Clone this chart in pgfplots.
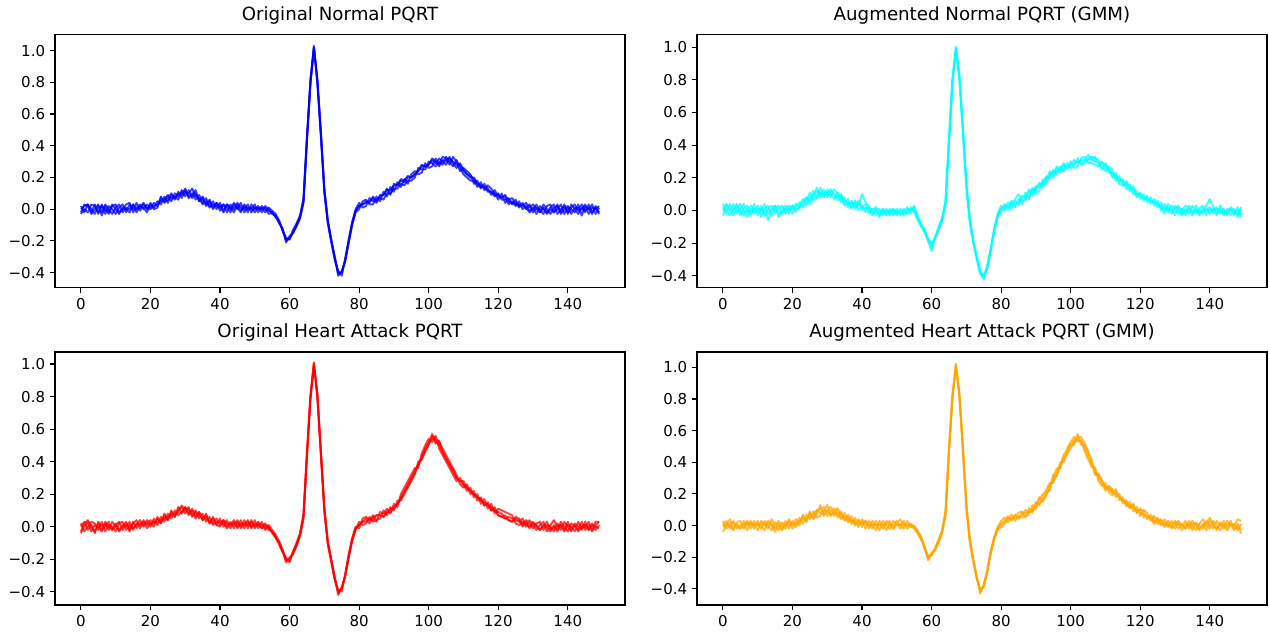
\documentclass[border=0pt]{standalone}
\usepackage{fontspec}
\setmainfont{DejaVu Sans}
\usepackage{pgfplots}
\usepackage{pgfplotstable}
\pgfplotsset{compat=1.18}
\definecolor{mblue}{RGB}{0,0,255}
\definecolor{mcyan}{RGB}{0,255,255}
\definecolor{mred}{RGB}{255,0,0}
\definecolor{morange}{RGB}{255,165,0}

\pgfplotstableread{
x a b c d
0 -0.02 0.02 -0.03 0.00
1 0.03 -0.02 0.00 0.02
2 0.02 0.03 -0.02 0.03
3 -0.02 0.00 0.03 -0.03
4 0.03 -0.03 0.02 0.00
5 -0.03 0.02 -0.02 0.03
6 0.02 -0.02 0.03 -0.04
7 0.00 0.03 -0.03 0.02
8 -0.03 0.00 0.02 -0.02
9 0.02 -0.03 0.00 0.03
10 0.03 0.01 -0.03 0.00
11 -0.02 0.03 0.01 -0.03
12 0.00 -0.02 0.03 0.01
13 0.03 0.01 -0.02 0.00
14 0.04 0.00 0.03 -0.02
15 -0.02 0.03 0.00 0.03
16 0.01 -0.02 0.04 0.00
17 0.03 0.02 -0.01 0.01
18 0.00 0.01 0.03 0.04
19 0.03 -0.02 0.01 0.00
20 0.01 0.04 0.00 0.03
21 0.04 0.01 0.02 0.00
22 0.02 0.05 0.03 0.01
23 0.07 0.03 0.05 0.08
24 0.05 0.08 0.06 0.04
25 0.08 0.04 0.09 0.06
26 0.05 0.09 0.07 0.10
27 0.10 0.06 0.08 0.07
28 0.08 0.11 0.06 0.10
29 0.11 0.07 0.12 0.09
30 0.08 0.12 0.10 0.13
31 0.12 0.08 0.10 0.07
32 0.07 0.10 0.13 0.09
33 0.10 0.06 0.08 0.12
34 0.05 0.09 0.07 0.05
35 0.08 0.04 0.03 0.07
36 0.03 0.07 0.05 0.02
37 0.06 0.02 0.01 0.05
38 0.01 0.05 0.03 0.00
39 0.04 0.00 0.02 0.04
40 -0.01 0.04 0.01 0.02
41 0.03 -0.01 0.03 -0.02
42 0.01 0.03 -0.02 0.03
43 -0.02 0.01 0.03 0.00
44 0.03 -0.02 0.00 0.04
45 0.00 0.03 0.04 0.01
46 0.04 -0.01 0.01 -0.02
47 -0.02 0.02 0.00 0.03
48 0.01 -0.02 0.03 0.00
49 0.00 0.03 -0.02 0.01
50 0.03 0.00 0.01 -0.02
51 -0.02 0.02 0.00 0.01
52 0.02 -0.02 0.01 0.00
53 0.00 0.02 -0.02 0.01
54 -0.01 0.00 0.01 -0.03
55 -0.02 -0.03 -0.01 -0.02
56 -0.05 -0.04 -0.03 -0.05
57 -0.08 -0.09 -0.07 -0.08
58 -0.13 -0.12 -0.14 -0.13
59 -0.19 -0.21 -0.18 -0.20
60 -0.19 -0.17 -0.19 -0.18
61 -0.14 -0.15 -0.13 -0.15
62 -0.10 -0.11 -0.09 -0.10
63 -0.05 -0.06 -0.04 -0.05
64 0.05 0.04 0.07 0.05
65 0.45 0.43 0.46 0.44
66 0.80 0.79 0.82 0.80
67 1.02 1.01 1.03 1.02
68 0.80 0.82 0.79 0.81
69 0.47 0.49 0.46 0.48
70 0.12 0.13 0.10 0.12
71 -0.08 -0.07 -0.09 -0.08
72 -0.20 -0.19 -0.21 -0.20
73 -0.31 -0.30 -0.32 -0.31
74 -0.40 -0.42 -0.39 -0.41
75 -0.40 -0.39 -0.42 -0.40
76 -0.32 -0.33 -0.31 -0.32
77 -0.20 -0.21 -0.19 -0.21
78 -0.09 -0.10 -0.08 -0.09
79 -0.01 -0.02 0.00 -0.01
80 0.02 0.00 0.04 0.02
81 0.03 0.05 0.01 0.03
82 0.04 0.06 0.02 0.05
83 0.05 0.03 0.07 0.04
84 0.07 0.03 0.05 0.08
85 0.04 0.08 0.06 0.05
86 0.09 0.05 0.07 0.08
87 0.09 0.11 0.06 0.09
88 0.12 0.08 0.10 0.13
89 0.12 0.14 0.10 0.09
90 0.15 0.11 0.13 0.16
91 0.15 0.17 0.13 0.15
92 0.18 0.14 0.16 0.19
93 0.17 0.19 0.15 0.18
94 0.20 0.16 0.18 0.21
95 0.20 0.22 0.18 0.20
96 0.22 0.24 0.20 0.22
97 0.24 0.22 0.26 0.24
98 0.27 0.23 0.25 0.28
99 0.27 0.29 0.25 0.27
100 0.28 0.26 0.30 0.28
101 0.31 0.27 0.29 0.32
102 0.29 0.32 0.27 0.30
103 0.32 0.28 0.30 0.27
104 0.30 0.33 0.28 0.31
105 0.28 0.32 0.33 0.30
106 0.32 0.28 0.30 0.33
107 0.30 0.33 0.27 0.29
108 0.28 0.30 0.31 0.26
109 0.28 0.24 0.26 0.29
110 0.24 0.26 0.22 0.25
111 0.22 0.24 0.20 0.22
112 0.20 0.22 0.18 0.21
113 0.20 0.16 0.18 0.19
114 0.16 0.18 0.14 0.16
115 0.15 0.13 0.17 0.14
116 0.14 0.16 0.12 0.14
117 0.11 0.13 0.15 0.12
118 0.11 0.09 0.13 0.11
119 0.08 0.12 0.10 0.09
120 0.10 0.08 0.06 0.09
121 0.06 0.08 0.10 0.07
122 0.06 0.08 0.04 0.09
123 0.07 0.03 0.06 0.05
124 0.03 0.05 0.07 0.04
125 0.06 0.02 0.04 0.03
126 0.01 0.05 0.03 0.02
127 0.04 0.00 0.02 0.03
128 0.00 0.02 0.04 0.01
129 0.03 -0.01 0.01 -0.02
130 -0.02 0.01 0.03 0.00
131 0.01 -0.03 0.00 0.03
132 0.00 0.02 -0.02 -0.02
133 -0.03 0.00 0.03 0.01
134 0.02 -0.02 0.00 -0.03
135 0.03 0.01 -0.03 0.00
136 -0.02 0.03 0.01 -0.02
137 0.00 -0.03 0.02 0.03
138 0.03 0.00 -0.02 -0.03
139 -0.03 0.02 0.03 0.00
140 0.01 -0.02 -0.03 0.02
141 0.00 0.03 0.01 -0.03
142 -0.02 0.00 0.03 0.01
143 0.03 -0.03 -0.01 0.00
144 -0.04 0.01 0.00 0.03
145 0.02 -0.02 0.03 -0.01
146 0.00 0.03 -0.03 0.01
147 0.03 -0.02 0.01 -0.03
148 -0.03 0.01 0.00 0.02
149 0.01 -0.03 0.02 -0.02
}\tabTL

\pgfplotstableread{
x a b c d
0 0.02 -0.03 0.04 0.00
1 -0.02 0.03 0.00 0.04
2 0.04 0.00 -0.03 0.01
3 0.00 0.04 0.01 -0.03
4 0.03 -0.02 0.04 0.01
5 -0.03 0.01 0.00 0.04
6 0.01 0.04 -0.03 0.00
7 0.03 -0.01 0.01 -0.04
8 -0.02 0.03 -0.03 0.01
9 0.04 0.00 0.01 -0.02
10 -0.03 0.03 -0.01 0.01
11 0.01 -0.04 0.03 0.00
12 0.00 0.01 -0.03 0.04
13 -0.06 0.03 0.01 -0.02
14 0.01 -0.03 0.03 0.00
15 0.03 0.01 -0.02 0.03
16 -0.02 0.03 0.01 -0.04
17 0.01 -0.02 0.03 0.00
18 0.03 0.01 -0.02 0.01
19 0.00 0.03 0.01 -0.02
20 0.01 -0.02 0.03 0.03
21 0.04 0.02 -0.01 0.01
22 0.02 0.05 0.03 0.01
23 0.05 0.02 0.07 0.04
24 0.08 0.05 0.03 0.08
25 0.06 0.11 0.07 0.04
26 0.10 0.06 0.12 0.08
27 0.12 0.09 0.07 0.14
28 0.10 0.14 0.11 0.08
29 0.13 0.09 0.08 0.11
30 0.08 0.11 0.13 0.10
31 0.12 0.08 0.10 0.13
32 0.10 0.13 0.07 0.09
33 0.08 0.10 0.11 0.06
34 0.10 0.05 0.07 0.09
35 0.04 0.08 0.06 0.03
36 0.07 0.02 0.05 0.04
37 0.02 0.06 0.01 0.05
38 0.05 0.01 0.06 0.02
39 0.00 0.05 0.03 0.06
40 0.03 0.02 0.10 0.00
41 -0.01 0.04 0.05 0.02
42 0.03 -0.02 0.02 0.01
43 -0.02 0.01 0.00 -0.03
44 0.01 -0.03 0.02 0.00
45 -0.03 0.00 -0.04 0.01
46 0.01 -0.03 0.01 -0.02
47 -0.02 0.01 -0.03 0.00
48 0.01 -0.02 0.00 -0.03
49 -0.03 0.01 -0.02 0.01
50 0.00 -0.03 0.01 -0.02
51 -0.02 0.01 -0.03 0.00
52 0.01 -0.02 0.00 -0.03
53 -0.02 0.02 -0.02 0.01
54 0.02 -0.02 0.01 0.00
55 0.00 0.03 -0.01 0.02
56 -0.05 -0.03 -0.06 -0.04
57 -0.09 -0.08 -0.10 -0.09
58 -0.12 -0.14 -0.11 -0.13
59 -0.18 -0.17 -0.19 -0.18
60 -0.22 -0.20 -0.25 -0.21
61 -0.17 -0.18 -0.16 -0.17
62 -0.11 -0.10 -0.12 -0.11
63 -0.06 -0.05 -0.07 -0.05
64 0.04 0.06 0.03 0.05
65 0.42 0.44 0.41 0.43
66 0.78 0.80 0.79 0.81
67 1.00 0.99 1.00 0.98
68 0.82 0.80 0.83 0.81
69 0.50 0.48 0.51 0.49
70 0.15 0.17 0.14 0.16
71 -0.07 -0.05 -0.08 -0.06
72 -0.19 -0.18 -0.20 -0.19
73 -0.29 -0.28 -0.30 -0.29
74 -0.38 -0.37 -0.39 -0.38
75 -0.41 -0.40 -0.42 -0.40
76 -0.35 -0.36 -0.34 -0.35
77 -0.24 -0.25 -0.23 -0.24
78 -0.12 -0.13 -0.11 -0.12
79 -0.03 -0.04 -0.02 -0.03
80 0.01 -0.01 0.03 0.01
81 0.02 0.04 0.00 0.03
82 0.03 0.00 0.05 0.02
83 0.01 0.05 0.03 0.06
84 0.06 0.02 0.07 0.03
85 0.03 0.07 0.10 0.05
86 0.08 0.04 0.06 0.09
87 0.08 0.11 0.06 0.09
88 0.12 0.08 0.13 0.07
89 0.09 0.13 0.11 0.14
90 0.14 0.10 0.15 0.12
91 0.16 0.12 0.14 0.17
92 0.16 0.19 0.17 0.14
93 0.20 0.16 0.21 0.18
94 0.21 0.23 0.19 0.24
95 0.24 0.20 0.25 0.22
96 0.24 0.26 0.22 0.27
97 0.25 0.23 0.27 0.25
98 0.28 0.26 0.24 0.29
99 0.26 0.29 0.27 0.25
100 0.28 0.26 0.30 0.28
101 0.31 0.28 0.26 0.29
102 0.29 0.32 0.27 0.30
103 0.31 0.28 0.32 0.29
104 0.31 0.29 0.33 0.30
105 0.34 0.31 0.29 0.32
106 0.31 0.33 0.29 0.31
107 0.30 0.32 0.28 0.33
108 0.29 0.31 0.27 0.29
109 0.29 0.27 0.30 0.25
110 0.28 0.24 0.26 0.29
111 0.25 0.27 0.23 0.25
112 0.22 0.25 0.23 0.20
113 0.22 0.18 0.20 0.23
114 0.18 0.21 0.19 0.16
115 0.18 0.15 0.19 0.16
116 0.15 0.17 0.13 0.18
117 0.16 0.12 0.14 0.14
118 0.12 0.15 0.13 0.10
119 0.10 0.08 0.12 0.10
120 0.09 0.11 0.07 0.10
121 0.08 0.06 0.10 0.07
122 0.07 0.09 0.05 0.07
123 0.06 0.04 0.08 0.06
124 0.05 0.07 0.03 0.05
125 0.05 0.02 0.06 0.03
126 0.01 0.05 0.00 0.03
127 0.04 0.00 0.02 -0.02
128 0.01 0.04 -0.01 0.02
129 -0.02 0.01 0.03 0.00
130 0.03 -0.03 0.01 0.01
131 0.00 0.02 -0.02 0.03
132 -0.03 0.00 0.01 -0.02
133 0.01 0.03 -0.03 0.00
134 -0.02 0.01 0.03 0.01
135 0.03 -0.02 0.00 -0.03
136 0.00 0.03 -0.02 0.01
137 -0.03 0.00 0.01 -0.02
138 0.01 -0.02 0.03 0.00
139 0.00 0.01 -0.03 0.03
140 0.02 -0.02 0.01 0.07
141 -0.02 0.01 0.00 0.02
142 0.01 -0.03 0.02 -0.02
143 0.00 0.03 -0.02 0.01
144 -0.03 0.00 0.01 -0.02
145 0.01 -0.02 -0.03 0.00
146 0.00 0.02 0.01 -0.03
147 -0.02 0.00 -0.03 0.01
148 0.02 -0.03 0.00 -0.04
149 -0.03 0.02 -0.04 0.01
}\tabTR

\pgfplotstableread{
x a b c d
0 -0.03 0.02 0.00 -0.04
1 0.02 -0.03 0.03 0.00
2 0.04 0.00 -0.02 0.03
3 0.00 0.03 0.01 -0.03
4 -0.03 0.02 -0.04 0.01
5 0.02 -0.02 0.03 0.00
6 -0.02 0.03 0.00 -0.03
7 0.00 -0.03 0.02 0.03
8 0.03 0.01 -0.02 0.00
9 -0.02 0.00 0.03 -0.02
10 0.02 -0.03 0.00 0.01
11 -0.03 0.02 -0.02 0.03
12 0.00 0.03 0.01 -0.02
13 0.03 -0.02 0.00 0.02
14 -0.02 0.01 0.03 -0.03
15 0.02 -0.01 -0.02 0.03
16 0.04 0.01 0.02 -0.01
17 -0.01 0.04 0.01 0.02
18 0.03 0.00 0.04 0.01
19 0.01 0.03 -0.01 0.04
20 0.04 0.00 0.02 0.02
21 0.02 0.05 0.03 0.00
22 0.05 0.01 0.03 0.06
23 0.02 0.06 0.04 0.02
24 0.07 0.03 0.05 0.08
25 0.04 0.08 0.06 0.04
26 0.09 0.05 0.07 0.10
27 0.06 0.10 0.08 0.06
28 0.11 0.07 0.09 0.12
29 0.12 0.09 0.13 0.08
30 0.08 0.12 0.10 0.12
31 0.11 0.07 0.12 0.08
32 0.07 0.11 0.06 0.10
33 0.10 0.06 0.09 0.05
34 0.05 0.09 0.07 0.09
35 0.08 0.04 0.06 0.04
36 0.03 0.07 0.05 0.08
37 0.06 0.02 0.04 0.02
38 0.02 0.06 0.01 0.05
39 0.05 0.01 0.03 0.01
40 0.01 0.05 0.03 0.00
41 0.04 0.00 0.02 0.04
42 0.00 0.04 -0.01 0.02
43 0.03 -0.01 0.02 0.01
44 -0.01 0.03 0.01 0.04
45 0.03 0.00 0.04 -0.01
46 0.00 0.04 -0.01 0.02
47 0.04 -0.01 0.02 0.01
48 -0.01 0.03 0.01 0.04
49 0.03 0.00 0.04 -0.01
50 0.00 0.04 -0.01 0.02
51 0.03 -0.01 0.02 0.01
52 -0.01 0.03 0.01 -0.01
53 0.02 -0.01 -0.02 0.01
54 -0.01 0.01 0.00 -0.02
55 -0.03 -0.02 -0.04 -0.03
56 -0.06 -0.05 -0.07 -0.06
57 -0.10 -0.09 -0.11 -0.10
58 -0.15 -0.14 -0.16 -0.15
59 -0.20 -0.21 -0.19 -0.22
60 -0.21 -0.19 -0.22 -0.20
61 -0.16 -0.17 -0.15 -0.16
62 -0.11 -0.12 -0.10 -0.11
63 -0.05 -0.06 -0.04 -0.05
64 0.06 0.05 0.08 0.06
65 0.45 0.43 0.46 0.44
66 0.80 0.78 0.81 0.79
67 1.00 0.99 1.01 1.00
68 0.80 0.82 0.79 0.81
69 0.45 0.47 0.44 0.46
70 0.10 0.12 0.09 0.11
71 -0.10 -0.09 -0.11 -0.10
72 -0.21 -0.20 -0.22 -0.21
73 -0.32 -0.31 -0.33 -0.32
74 -0.40 -0.42 -0.39 -0.41
75 -0.38 -0.37 -0.40 -0.38
76 -0.30 -0.31 -0.29 -0.30
77 -0.18 -0.19 -0.17 -0.19
78 -0.08 -0.09 -0.07 -0.08
79 -0.01 -0.02 0.00 -0.01
80 0.01 0.03 -0.01 0.01
81 0.03 0.01 0.05 0.03
82 0.05 0.02 0.06 0.03
83 0.02 0.06 0.04 0.05
84 0.06 0.03 0.07 0.04
85 0.07 0.04 0.03 0.07
86 0.07 0.05 0.09 0.07
87 0.06 0.10 0.08 0.06
88 0.09 0.07 0.11 0.09
89 0.09 0.12 0.08 0.11
90 0.12 0.10 0.14 0.11
91 0.14 0.16 0.12 0.14
92 0.18 0.16 0.20 0.17
93 0.22 0.20 0.24 0.21
94 0.26 0.24 0.28 0.25
95 0.30 0.28 0.32 0.29
96 0.34 0.32 0.36 0.33
97 0.38 0.40 0.36 0.38
98 0.43 0.41 0.45 0.42
99 0.48 0.46 0.50 0.47
100 0.52 0.50 0.54 0.51
101 0.54 0.56 0.52 0.57
102 0.53 0.54 0.56 0.51
103 0.50 0.52 0.48 0.53
104 0.46 0.48 0.44 0.46
105 0.42 0.44 0.40 0.42
106 0.38 0.40 0.36 0.38
107 0.34 0.36 0.32 0.35
108 0.30 0.32 0.28 0.30
109 0.28 0.26 0.30 0.28
110 0.26 0.24 0.26 0.28
111 0.24 0.26 0.22 0.24
112 0.22 0.20 0.24 0.22
113 0.20 0.22 0.18 0.20
114 0.18 0.16 0.20 0.18
115 0.16 0.18 0.14 0.17
116 0.15 0.13 0.17 0.13
117 0.13 0.15 0.11 0.14
118 0.12 0.10 0.14 0.10
119 0.10 0.12 0.08 0.10
120 0.09 0.07 0.11 0.07
121 0.08 0.06 0.10 0.06
122 0.05 0.07 0.09 0.05
123 0.06 0.04 0.08 0.04
124 0.05 0.03 0.07 0.03
125 0.04 0.06 0.02 0.05
126 0.03 0.05 0.01 0.04
127 0.05 0.01 0.03 0.00
128 0.01 0.04 0.00 0.03
129 0.00 0.02 0.04 -0.01
130 0.03 -0.01 0.01 0.02
131 0.00 0.02 -0.02 0.01
132 -0.02 0.03 0.01 -0.02
133 0.01 -0.02 0.03 0.00
134 0.00 0.01 -0.03 0.03
135 -0.03 0.00 0.01 -0.02
136 0.01 -0.03 0.04 0.00
137 -0.02 0.02 0.00 -0.03
138 0.03 -0.02 0.01 0.01
139 0.00 0.03 -0.03 -0.02
140 -0.03 0.00 0.01 0.03
141 0.02 -0.03 0.00 -0.02
142 0.00 0.02 -0.03 0.01
143 -0.02 0.00 0.03 -0.03
144 0.03 -0.02 -0.01 0.00
145 -0.02 0.03 0.00 0.01
146 0.01 -0.02 0.03 -0.02
147 -0.03 0.01 -0.02 0.02
148 0.01 0.00 0.03 -0.02
149 0.03 -0.01 0.03 0.01
}\tabBL

\pgfplotstableread{
x a b c d
0 0.00 -0.04 0.03 -0.01
1 0.03 0.00 -0.02 0.01
2 -0.02 0.04 0.01 0.00
3 0.02 -0.02 0.03 -0.03
4 0.00 0.02 -0.02 0.01
5 -0.02 0.03 0.00 -0.02
6 0.03 -0.02 0.01 0.00
7 0.00 0.02 -0.03 0.03
8 0.02 -0.02 0.03 0.00
9 -0.02 0.03 0.00 0.01
10 0.03 0.00 0.01 -0.03
11 0.00 0.02 -0.02 0.03
12 -0.03 0.01 0.03 0.00
13 0.02 -0.02 0.00 0.03
14 0.00 0.04 -0.03 0.01
15 -0.04 0.00 0.02 -0.02
16 0.01 -0.03 0.00 0.03
17 -0.02 0.02 -0.03 0.00
18 0.03 0.00 0.01 -0.02
19 0.00 0.03 -0.02 0.04
20 0.01 -0.02 0.03 0.00
21 0.04 0.01 -0.01 0.02
22 0.02 0.05 0.03 0.00
23 0.06 0.01 0.04 0.07
24 0.03 0.07 0.05 0.02
25 0.08 0.04 0.06 0.09
26 0.05 0.09 0.07 0.04
27 0.09 0.05 0.10 0.07
28 0.11 0.06 0.08 0.13
29 0.07 0.12 0.09 0.06
30 0.09 0.06 0.13 0.10
31 0.12 0.09 0.07 0.06
32 0.06 0.11 0.08 0.09
33 0.10 0.05 0.07 0.11
34 0.05 0.09 0.04 0.07
35 0.08 0.04 0.06 0.03
36 0.03 0.07 0.02 0.05
37 0.06 0.01 0.04 0.02
38 0.01 0.05 0.00 0.03
39 0.04 0.00 0.03 -0.01
40 -0.01 0.03 0.01 0.04
41 0.03 -0.02 0.03 0.01
42 0.01 0.03 -0.02 0.00
43 -0.02 0.00 0.03 0.01
44 0.03 0.01 0.00 -0.03
45 0.00 -0.03 0.01 0.03
46 0.01 0.03 -0.02 0.00
47 -0.03 0.00 0.03 0.01
48 0.01 -0.02 0.00 0.03
49 0.00 0.03 -0.02 -0.02
50 0.03 0.00 0.01 0.01
51 -0.02 0.01 0.04 0.00
52 0.01 -0.02 0.00 0.03
53 0.00 0.03 0.01 -0.02
54 0.01 0.00 -0.01 0.01
55 -0.01 -0.02 0.00 -0.01
56 -0.04 -0.05 -0.03 -0.04
57 -0.08 -0.09 -0.07 -0.08
58 -0.14 -0.13 -0.15 -0.14
59 -0.20 -0.21 -0.19 -0.22
60 -0.18 -0.17 -0.19 -0.18
61 -0.15 -0.16 -0.14 -0.15
62 -0.10 -0.11 -0.09 -0.10
63 -0.04 -0.05 -0.03 -0.04
64 0.08 0.06 0.09 0.07
65 0.48 0.46 0.49 0.47
66 0.82 0.80 0.83 0.81
67 1.02 1.01 1.00 1.02
68 0.83 0.81 0.84 0.82
69 0.48 0.50 0.47 0.49
70 0.12 0.14 0.11 0.13
71 -0.10 -0.08 -0.11 -0.09
72 -0.22 -0.21 -0.23 -0.22
73 -0.33 -0.32 -0.34 -0.33
74 -0.41 -0.43 -0.40 -0.42
75 -0.38 -0.37 -0.39 -0.38
76 -0.29 -0.30 -0.28 -0.29
77 -0.17 -0.18 -0.16 -0.17
78 -0.08 -0.09 -0.07 -0.08
79 -0.02 -0.03 -0.01 -0.02
80 0.01 -0.01 0.03 0.01
81 0.03 0.01 0.05 0.02
82 0.06 0.04 0.02 0.05
83 0.03 0.07 0.05 0.04
84 0.07 0.03 0.05 0.06
85 0.04 0.06 0.08 0.05
86 0.08 0.05 0.09 0.06
87 0.08 0.06 0.05 0.10
88 0.09 0.07 0.11 0.08
89 0.09 0.13 0.08 0.11
90 0.14 0.10 0.15 0.12
91 0.14 0.17 0.13 0.18
92 0.16 0.20 0.18 0.15
93 0.19 0.21 0.23 0.20
94 0.26 0.22 0.27 0.24
95 0.28 0.31 0.27 0.32
96 0.32 0.36 0.34 0.31
97 0.38 0.36 0.40 0.38
98 0.41 0.43 0.40 0.45
99 0.47 0.45 0.49 0.47
100 0.51 0.49 0.53 0.51
101 0.54 0.52 0.56 0.51
102 0.55 0.58 0.53 0.56
103 0.53 0.51 0.54 0.56
104 0.49 0.51 0.47 0.52
105 0.44 0.46 0.42 0.47
106 0.39 0.42 0.37 0.40
107 0.35 0.33 0.37 0.32
108 0.30 0.32 0.28 0.33
109 0.27 0.29 0.25 0.27
110 0.25 0.23 0.27 0.22
111 0.23 0.25 0.21 0.25
112 0.21 0.23 0.19 0.21
113 0.22 0.18 0.23 0.20
114 0.18 0.20 0.16 0.18
115 0.16 0.14 0.18 0.16
116 0.13 0.16 0.12 0.15
117 0.13 0.11 0.15 0.11
118 0.11 0.13 0.09 0.14
119 0.10 0.08 0.12 0.08
120 0.08 0.10 0.06 0.11
121 0.07 0.09 0.10 0.05
122 0.06 0.04 0.08 0.06
123 0.05 0.07 0.03 0.05
124 0.02 0.04 0.06 0.01
125 0.05 0.01 0.03 0.04
126 0.01 0.04 0.00 0.03
127 0.04 0.00 0.02 -0.01
128 0.00 0.03 -0.01 0.02
129 -0.01 0.01 0.03 -0.02
130 0.03 -0.02 0.01 0.01
131 0.00 0.02 -0.02 0.03
132 0.01 -0.03 0.00 0.00
133 -0.02 0.01 0.03 -0.02
134 0.03 0.00 -0.02 0.01
135 0.00 0.03 0.01 -0.03
136 -0.03 0.00 0.01 0.02
137 0.01 -0.02 -0.03 0.00
138 0.04 0.01 0.00 -0.02
139 0.00 -0.03 0.03 0.01
140 -0.02 0.03 0.00 0.05
141 0.03 0.00 -0.02 0.01
142 0.00 -0.02 0.03 -0.03
143 -0.03 0.01 0.00 0.02
144 0.01 -0.02 0.03 0.00
145 0.00 0.03 -0.02 -0.03
146 0.03 0.00 0.01 0.01
147 -0.02 0.01 -0.03 0.00
148 0.01 -0.03 0.00 0.04
149 -0.03 0.01 -0.05 0.03
}\tabBR

\pgfplotsset{
  ecg/.style={
    scale only axis, width=570pt, height=253pt,
    xmin=-7.45, xmax=156.45,
    axis line style={line width=1.1pt, black},
    tick align=outside, xtick pos=left, ytick pos=left,
    major tick length=5.2pt,
    every tick/.style={line width=1.1pt, black},
    xtick={0,20,40,60,80,100,120,140},
    xticklabels={0,20,40,60,80,100,120,140},
    ytick={-0.4,-0.2,0,0.2,0.4,0.6,0.8,1.0},
    yticklabels={−0.4,−0.2,0.0,0.2,0.4,0.6,0.8,1.0},
    tick label style={font=\fontsize{15}{18}\selectfont},
    xticklabel style={inner sep=0pt, anchor=north, yshift=-5.2pt},
    yticklabel style={inner sep=0pt, anchor=east, xshift=-4.5pt},
    title style={font=\fontsize{18.2}{22}\selectfont, anchor=base, at={(0.5,1)}, yshift=8.4pt, inner sep=0pt},
    every axis plot/.append style={line width=1.9pt, opacity=0.75, line join=round},
  }
}

\begin{document}
\begin{tikzpicture}
\useasboundingbox (0,0) rectangle (1269pt,633pt);
\begin{axis}[ecg, at={(55pt,345.3pt)}, anchor=south west, ymin=-0.495, ymax=1.100, title={Original Normal PQRT}]
\addplot[mblue] table[x=x,y=a]{\tabTL};
\addplot[mblue] table[x=x,y=b]{\tabTL};
\addplot[mblue] table[x=x,y=c]{\tabTL};
\addplot[mblue] table[x=x,y=d]{\tabTL};
\end{axis}
\begin{axis}[ecg, at={(697pt,345.3pt)}, anchor=south west, ymin=-0.473, ymax=1.076, title={Augmented Normal PQRT (GMM)}]
\addplot[mcyan] table[x=x,y=a]{\tabTR};
\addplot[mcyan] table[x=x,y=b]{\tabTR};
\addplot[mcyan] table[x=x,y=c]{\tabTR};
\addplot[mcyan] table[x=x,y=d]{\tabTR};
\end{axis}
\begin{axis}[ecg, at={(55pt,28pt)}, anchor=south west, ymin=-0.482, ymax=1.074, title={Original Heart Attack PQRT}]
\addplot[mred] table[x=x,y=a]{\tabBL};
\addplot[mred] table[x=x,y=b]{\tabBL};
\addplot[mred] table[x=x,y=c]{\tabBL};
\addplot[mred] table[x=x,y=d]{\tabBL};
\end{axis}
\begin{axis}[ecg, at={(697pt,28pt)}, anchor=south west, ymin=-0.502, ymax=1.097, title={Augmented Heart Attack PQRT (GMM)}]
\addplot[morange] table[x=x,y=a]{\tabBR};
\addplot[morange] table[x=x,y=b]{\tabBR};
\addplot[morange] table[x=x,y=c]{\tabBR};
\addplot[morange] table[x=x,y=d]{\tabBR};
\end{axis}
\end{tikzpicture}
\end{document}
